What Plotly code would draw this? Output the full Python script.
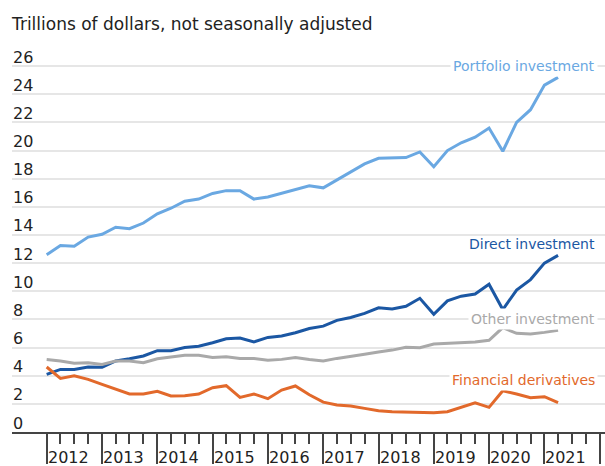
import pandas as pd
import plotly.graph_objects as go

# Quarter-end positions, 2011Q4 .. 2021Q1
quarters = pd.period_range("2011Q4", "2021Q1", freq="Q")
x_dates = [(q.end_time + pd.Timedelta(seconds=1)).strftime("%Y-%m-%d") for q in quarters]

portfolio = [12.6, 13.25, 13.2, 13.85, 14.05, 14.55, 14.45, 14.85, 15.5, 15.9,
             16.4, 16.55, 16.95, 17.15, 17.15, 16.55, 16.7, 16.95, 17.25, 17.5,
             17.35, 17.9, 18.45, 19.05, 19.45, 19.45, 19.5, 19.9, 18.85, 20.0,
             20.55, 20.95, 21.6, 19.95, 22.0, 22.9, 24.65, 25.2]
direct = [4.1, 4.45, 4.45, 4.62, 4.6, 5.05, 5.2, 5.4, 5.78, 5.78,
          6.0, 6.1, 6.34, 6.62, 6.68, 6.4, 6.72, 6.82, 7.05, 7.35,
          7.52, 7.93, 8.14, 8.43, 8.83, 8.74, 8.93, 9.5, 8.36, 9.32,
          9.65, 9.8, 10.5, 8.7, 10.08, 10.83, 12.0, 12.55]
other = [5.15, 5.05, 4.88, 4.92, 4.8, 5.05, 5.05, 4.92, 5.2, 5.35,
         5.45, 5.45, 5.3, 5.35, 5.23, 5.23, 5.1, 5.16, 5.3, 5.15,
         5.05, 5.23, 5.4, 5.52, 5.68, 5.82, 6.02, 5.99, 6.25, 6.3,
         6.37, 6.39, 6.52, 7.42, 7.01, 6.96, 7.08, 7.22]
derivatives = [4.62, 3.81, 4.0, 3.74, 3.39, 3.03, 2.7, 2.7, 2.89, 2.56,
               2.58, 2.7, 3.15, 3.29, 2.46, 2.7, 2.37, 2.98, 3.27, 2.65,
               2.12, 1.92, 1.85, 1.68, 1.51, 1.44, 1.42, 1.37, 1.37, 1.44,
               1.75, 2.08, 1.75, 2.93, 2.7, 2.44, 2.51, 2.08]

series_names = ["Portfolio investment", "Direct investment", "Other investment", "Financial derivatives"]
series_colors = ["#6aa8e2", "#1b57a3", "#a9a9a9", "#e2692b"]
series_values = [portfolio, direct, other, derivatives]
label_y = [26, 13.37, 8.05, 3.7]
label_bg = ["white", "rgba(0,0,0,0)", "white", "white"]

year_labels = [str(y) for y in range(2012, 2022)]
y_ticks = list(range(0, 27, 2))

FONT = "DejaVu Sans"

fig = go.Figure()
for name, vals, col in zip(series_names, series_values, series_colors):
    fig.add_trace(go.Scatter(x=x_dates, y=vals, mode="lines", name=name,
                             line=dict(color=col, width=3), hoverinfo="skip"))

for name, col, ly, bg in zip(series_names, series_colors, label_y, label_bg):
    fig.add_annotation(x=0.988, xref="paper", y=ly, yref="y", text=name,
                       showarrow=False, xanchor="right", yanchor="middle",
                       font=dict(family=FONT, size=14, color=col),
                       bgcolor=bg, borderpad=2)

# y-axis value labels sitting just above their gridlines
for v in y_ticks:
    fig.add_annotation(x=0, xref="paper", y=v, yref="y", text=str(v),
                       showarrow=False, xanchor="left", yanchor="middle",
                       xshift=0, yshift=9, borderpad=0,
                       font=dict(family=FONT, size=16, color="#222222"))

for yl in year_labels:
    fig.add_annotation(x=f"{yl}-01-01", xref="x", y=0, yref="paper", text=yl,
                       showarrow=False, xanchor="left", yanchor="middle",
                       xshift=0, yshift=-25, borderpad=0,
                       font=dict(family=FONT, size=16, color="#222222"))

major_ticks = [f"{y}-01-01" for y in range(2012, 2023)]
minor_ticks = [f"{y}-{m:02d}-01" for y in range(2012, 2022) for m in (4, 7, 10)]

fig.update_layout(
    template="none",
    width=605, height=466,
    margin=dict(l=12, r=0, t=45, b=34, autoexpand=False),
    paper_bgcolor="white", plot_bgcolor="white",
    showlegend=False,
    title=dict(text="Trillions of dollars, not seasonally adjusted",
               x=0, xref="paper", xanchor="left", y=1, yref="container",
               yanchor="top", pad=dict(t=18),
               font=dict(family=FONT, size=17, color="#222222")),
    xaxis=dict(type="date", range=["2011-05-17", "2022-02-05"],
               automargin=False,
               showgrid=False, zeroline=False,
               showline=True, linecolor="#444444", linewidth=2,
               tickmode="array", tickvals=major_ticks, ticks="outside",
               ticklen=30, tickwidth=1.5, tickcolor="#444444",
               showticklabels=False,
               minor=dict(tickmode="array", tickvals=minor_ticks, ticks="outside",
                          ticklen=10, tickwidth=1.5, tickcolor="#444444", showgrid=False)),
    yaxis=dict(range=[0, 27.5], tickmode="array", tickvals=y_ticks,
               automargin=False, showticklabels=False,
               showgrid=True, gridcolor="#e6e6e6", gridwidth=2,
               zeroline=False, showline=False, ticks=""),
)

fig.write_html("out.html", config={"displayModeBar": False},
               post_script="document.body.style.margin='0';")
